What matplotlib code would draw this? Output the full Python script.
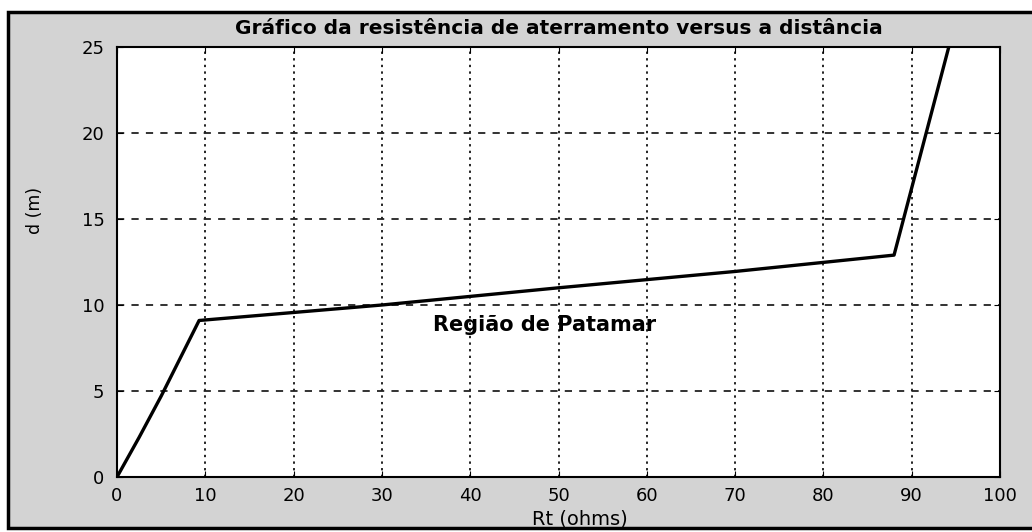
import matplotlib
matplotlib.use("Agg")
import matplotlib.pyplot as plt
from matplotlib.patches import Rectangle

# pontos
rt = [0, 2.5, 5, 9.3, 30, 50, 70, 88, 94.2]
d = [0, 2.3, 4.7, 9.1, 10.0, 11.0, 11.95, 12.9, 25]

xticks = [0, 10, 20, 30, 40, 50, 60, 70, 80, 90, 100]
yticks = [0, 5, 10, 15, 20, 25]

fig = plt.figure(figsize=(10.32, 5.32), dpi=100)
fig.patch.set_facecolor("white")

# moldura cinza com borda preta
fig.patches.append(Rectangle((8 / 1032, 4 / 532), 1.0, 516 / 532, transform=fig.transFigure,
                             facecolor="#d3d3d3", edgecolor="black", linewidth=2.5, zorder=-5))

ax = fig.add_axes([117 / 1032, 1 - 477 / 532, 883 / 1032, 430 / 532])
ax.set_zorder(2)
ax.set_facecolor("white")

ax.plot(rt, d, color="black", linewidth=2.4, zorder=3)

ax.set_xlim(0, 100)
ax.set_ylim(0, 25)
ax.set_xticks(xticks)
ax.set_yticks(yticks)
ax.tick_params(direction="in", length=4, labelsize=13, colors="black", pad=9,
               top=True, right=True)
ax.tick_params(axis="x", pad=7)

for x in xticks[1:-1]:
    ax.axvline(x, color="#222222", linestyle=(0, (1.2, 2.2)), linewidth=1.4, zorder=1)
for y in yticks[1:-1]:
    ax.axhline(y, color="#222222", linestyle=(0, (4, 4)), linewidth=1.3, zorder=1)

for s in ax.spines.values():
    s.set_linewidth(1.5)

ax.set_title("Gráfico da resistência de aterramento versus a distância",
             fontsize=14.5, fontweight="bold", pad=9)
ax.set_xlabel("Rt (ohms)", fontsize=14, va="center")
ax.xaxis.set_label_coords(0.524, -0.098)
ax.set_ylabel("d (m)", fontsize=12.5, va="center")
ax.yaxis.set_label_coords(-0.093, 0.62)

ax.text(48.4, 8.84, "Região de Patamar", fontsize=15, fontweight="bold",
        ha="center", va="center", zorder=4)

plt.savefig("out.png", dpi=100)
